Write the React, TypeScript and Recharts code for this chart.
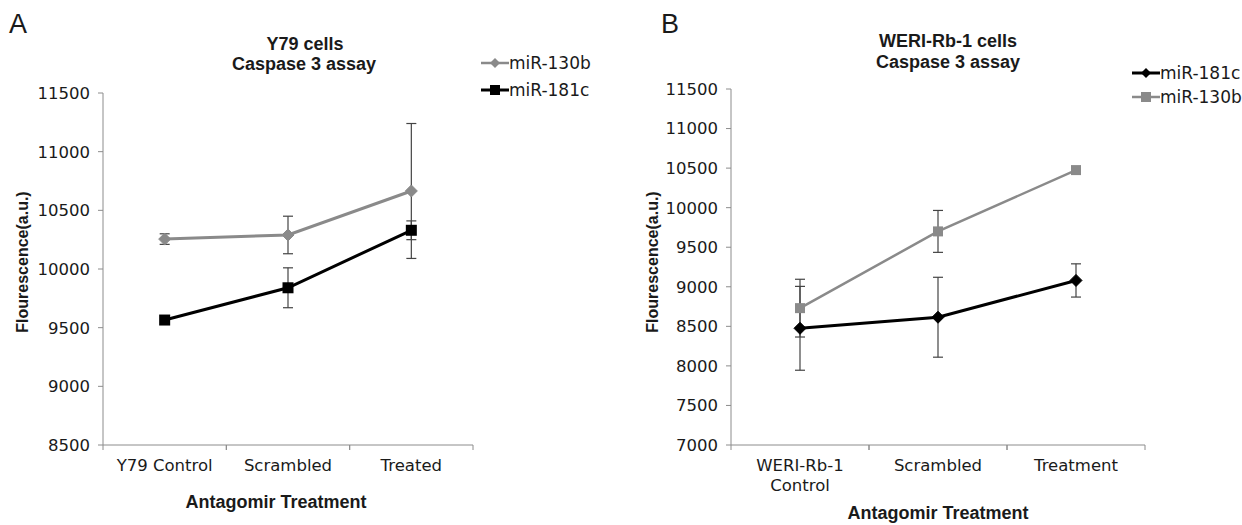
import React from 'react';
import { LineChart, Line, XAxis, YAxis, ErrorBar } from 'recharts';

// ---------- Panel A: Y79 cells ----------
const categoriesA = ['Y79 Control', 'Scrambled', 'Treated'];
const a130b = [10255, 10290, 10665];
const a130bErr = [45, 160, 575];
const a181c = [9565, 9840, 10330];
const a181cErr = [0, 170, 80];
const ticksA = [8500, 9000, 9500, 10000, 10500, 11000, 11500];

// ---------- Panel B: WERI-Rb-1 cells ----------
const categoriesB = ['WERI-Rb-1\nControl', 'Scrambled', 'Treatment'];
const b181c = [8475, 8615, 9080];
const b181cErr = [530, 505, 210];
const b130b = [8730, 9700, 10475];
const b130bErr = [365, 265, 0];
const ticksB = [7000, 7500, 8000, 8500, 9000, 9500, 10000, 10500, 11000, 11500];

const dataA = categoriesA.map((c, i) => ({
  cat: c,
  m130b: a130b[i],
  e130b: a130bErr[i],
  m181c: a181c[i],
  e181c: a181cErr[i],
}));
const dataB = categoriesB.map((c, i) => ({
  cat: c,
  m181c: b181c[i],
  e181c: b181cErr[i],
  m130b: b130b[i],
  e130b: b130bErr[i],
}));

const FONT = '"Liberation Sans", Arial, sans-serif';
const WIDE = '"DejaVu Sans", sans-serif';
const AXIS = '#8c8c8c';
const GRAY = '#8a8a8a';
const BLACK = '#000000';
const ERR = '#444444';
const TEXT = '#1a1a1a';

const diamondDot = (fill: string, r: number) => (props: any) => {
  const { cx, cy, index } = props;
  if (cx == null || cy == null) return <g key={index} />;
  return (
    <polygon
      key={index}
      points={`${cx},${cy - r} ${cx + r},${cy} ${cx},${cy + r} ${cx - r},${cy}`}
      fill={fill}
      stroke={fill}
    />
  );
};

const squareDot = (fill: string, s: number) => (props: any) => {
  const { cx, cy, index } = props;
  if (cx == null || cy == null) return <g key={index} />;
  return <rect key={index} x={cx - s / 2} y={cy - s / 2} width={s} height={s} fill={fill} />;
};

const XTick = (props: any) => {
  const { x, y, payload, width, visibleTicksCount } = props;
  let band = Number(width) / Number(visibleTicksCount);
  if (!isFinite(band)) band = (payload?.offset || 0) * 2;
  const lines = String(payload.value).split('\n');
  return (
    <g>
      <line x1={x - band / 2} x2={x - band / 2} y1={y} y2={y + 5} stroke={AXIS} />
      <line x1={x + band / 2} x2={x + band / 2} y1={y} y2={y + 5} stroke={AXIS} />
      <text x={x} y={y + 14} textAnchor="middle" fontSize={16.5} fill={TEXT} fontFamily={WIDE}>
        {lines.map((l, i) => (
          <tspan key={i} x={x} dy={i === 0 ? '0.71em' : '1.25em'}>
            {l}
          </tspan>
        ))}
      </text>
    </g>
  );
};

const abs = (left: number, top: number, extra: React.CSSProperties = {}): React.CSSProperties => ({
  position: 'absolute',
  left,
  top,
  transform: 'translate(-50%, -50%)',
  whiteSpace: 'nowrap',
  fontFamily: FONT,
  color: TEXT,
  ...extra,
});

const LegendRow = ({
  left,
  top,
  color,
  shape,
  label,
  lw,
}: {
  left: number;
  top: number;
  color: string;
  shape: 'diamond' | 'square';
  label: string;
  lw: number;
}) => (
  <div
    style={{
      position: 'absolute',
      left,
      top: top - 11,
      height: 22,
      display: 'flex',
      alignItems: 'center',
      fontFamily: WIDE,
      fontSize: 17,
      color: TEXT,
      whiteSpace: 'nowrap',
    }}
  >
    <svg width={28} height={22} style={{ display: 'block' }}>
      <line x1={0} x2={28} y1={11} y2={11} stroke={color} strokeWidth={lw} />
      {shape === 'diamond' ? (
        <polygon points="14,6 19,11 14,16 9,11" fill={color} />
      ) : (
        <rect x={9} y={6} width={10} height={10} fill={color} />
      )}
    </svg>
    <span style={{ marginLeft: 0 }}>{label}</span>
  </div>
);

export default function App() {
  const tickStyle = { fontSize: 16.5, fill: TEXT, fontFamily: WIDE };
  return (
    <div
      style={{
        position: 'absolute',
        left: 0,
        top: 0,
        width: 1242,
        height: 525,
        background: '#fff',
        overflow: 'hidden',
        fontFamily: FONT,
      }}
    >
      {/* Panel A chart */}
      <div style={{ position: 'absolute', left: 0, top: 0 }}>
        <LineChart
          width={620}
          height={525}
          data={dataA}
          margin={{ top: 93, right: 147, bottom: 40, left: 43 }}
        >
          <XAxis
            dataKey="cat"
            scale="band"
            height={40}
            stroke={AXIS}
            tickLine={false}
            tickSize={0}
            tickMargin={0}
            interval={0}
            tick={<XTick />}
          />
          <YAxis
            domain={[8500, 11500]}
            ticks={ticksA}
            width={60}
            stroke={AXIS}
            tickSize={5}
            tickMargin={8}
            tick={tickStyle}
            allowDataOverflow
          />
          <Line
            dataKey="m130b"
            stroke={GRAY}
            strokeWidth={3}
            dot={diamondDot(GRAY, 6)}
            isAnimationActive={false}
          >
            <ErrorBar dataKey="e130b" width={5} stroke={ERR} strokeWidth={1.2} direction="y" />
          </Line>
          <Line
            dataKey="m181c"
            stroke={BLACK}
            strokeWidth={3}
            dot={squareDot(BLACK, 11)}
            isAnimationActive={false}
          >
            <ErrorBar dataKey="e181c" width={5} stroke={ERR} strokeWidth={1.2} direction="y" />
          </Line>
        </LineChart>
      </div>

      {/* Panel B chart */}
      <div style={{ position: 'absolute', left: 620, top: 0 }}>
        <LineChart
          width={622}
          height={525}
          data={dataB}
          margin={{ top: 89, right: 97, bottom: 40, left: 51 }}
        >
          <XAxis
            dataKey="cat"
            scale="band"
            height={40}
            stroke={AXIS}
            tickLine={false}
            tickSize={0}
            tickMargin={0}
            interval={0}
            tick={<XTick />}
          />
          <YAxis
            domain={[7000, 11500]}
            ticks={ticksB}
            width={60}
            stroke={AXIS}
            tickSize={5}
            tickMargin={8}
            tick={tickStyle}
            allowDataOverflow
          />
          <Line
            dataKey="m181c"
            stroke={BLACK}
            strokeWidth={3}
            dot={diamondDot(BLACK, 6)}
            isAnimationActive={false}
          >
            <ErrorBar dataKey="e181c" width={5} stroke={ERR} strokeWidth={1.2} direction="y" />
          </Line>
          <Line
            dataKey="m130b"
            stroke={GRAY}
            strokeWidth={2.5}
            dot={squareDot(GRAY, 10)}
            isAnimationActive={false}
          >
            <ErrorBar dataKey="e130b" width={5} stroke={ERR} strokeWidth={1.2} direction="y" />
          </Line>
        </LineChart>
      </div>

      {/* Panel letters */}
      <div style={abs(18, 24, { fontSize: 27 })}>A</div>
      <div style={abs(670, 24, { fontSize: 27 })}>B</div>

      {/* Titles */}
      <div style={abs(305, 44, { fontSize: 18, fontWeight: 'bold' })}>Y79 cells</div>
      <div style={abs(304, 64, { fontSize: 18, fontWeight: 'bold' })}>Caspase 3 assay</div>
      <div style={abs(948, 41, { fontSize: 18, fontWeight: 'bold' })}>WERI-Rb-1 cells</div>
      <div style={abs(948, 62, { fontSize: 18, fontWeight: 'bold' })}>Caspase 3 assay</div>

      {/* Axis titles */}
      <div style={abs(23, 262, { fontSize: 16, fontWeight: 'bold', transform: 'translate(-50%, -50%) rotate(-90deg)' })}>
        Flourescence(a.u.)
      </div>
      <div style={abs(653, 262, { fontSize: 16, fontWeight: 'bold', transform: 'translate(-50%, -50%) rotate(-90deg)' })}>
        Flourescence(a.u.)
      </div>
      <div style={abs(276, 502, { fontSize: 18, fontWeight: 'bold' })}>Antagomir Treatment</div>
      <div style={abs(938, 513, { fontSize: 18, fontWeight: 'bold' })}>Antagomir Treatment</div>

      {/* Legends */}
      <LegendRow left={481} top={63} color={GRAY} shape="diamond" label="miR-130b" lw={2.5} />
      <LegendRow left={481} top={90} color={BLACK} shape="square" label="miR-181c" lw={3} />
      <LegendRow left={1132} top={73} color={BLACK} shape="diamond" label="miR-181c" lw={3} />
      <LegendRow left={1132} top={97} color={GRAY} shape="square" label="miR-130b" lw={2.5} />
    </div>
  );
}
